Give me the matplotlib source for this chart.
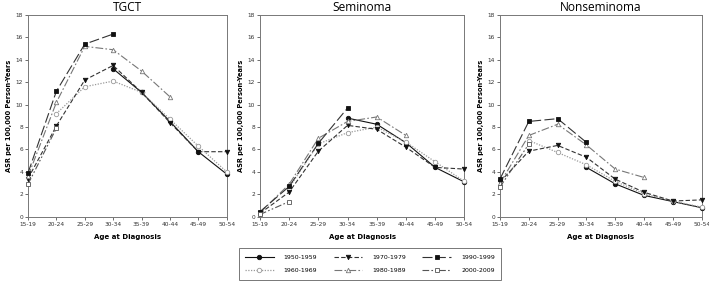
import matplotlib
matplotlib.use("Agg")
import matplotlib.pyplot as plt
import numpy as np

ages = ["15-19", "20-24", "25-29", "30-34", "35-39", "40-44", "45-49", "50-54"]
cohorts = ["1950-1959", "1960-1969", "1970-1979", "1980-1989", "1990-1999", "2000-2009"]
N = None

# TGCT
tgct_1950 = [N, N, N, 13.2, 11.1, 8.5, 5.8, 3.8]
tgct_1960 = [N, 9.2, 11.6, 12.1, 11.1, 8.7, 6.3, 4.0]
tgct_1970 = [3.4, 8.1, 12.2, 13.5, 11.1, 8.4, 5.8, 5.8]
tgct_1980 = [3.6, 10.2, 15.2, 14.9, 13.0, 10.7, N, N]
tgct_1990 = [3.9, 11.2, 15.4, 16.3, N, N, N, N]
tgct_2000 = [2.9, 7.9, N, N, N, N, N, N]

# Seminoma
sem_1950 = [N, N, N, 8.8, 8.25, 6.6, 4.4, 3.1]
sem_1960 = [N, 2.6, 6.5, 7.5, 8.0, 6.65, 4.9, 3.15]
sem_1970 = [0.3, 2.2, 5.85, 8.15, 7.8, 6.2, 4.4, 4.25]
sem_1980 = [0.35, 2.9, 7.0, 8.5, 8.9, 7.25, N, N]
sem_1990 = [0.45, 2.7, 6.55, 9.7, N, N, N, N]
sem_2000 = [0.2, 1.35, N, N, N, N, N, N]

# Nonseminoma
non_1950 = [N, N, N, 4.4, 2.93, 1.9, 1.35, 0.8]
non_1960 = [N, 6.8, 5.73, 4.63, 3.15, 2.05, 1.4, 0.85]
non_1970 = [3.1, 5.85, 6.36, 5.3, 3.35, 2.18, 1.4, 1.5]
non_1980 = [3.0, 7.25, 8.25, 6.4, 4.25, 3.5, N, N]
non_1990 = [3.37, 8.5, 8.75, 6.63, N, N, N, N]
non_2000 = [2.65, 6.48, N, N, N, N, N, N]

panels = [
    ("TGCT", [tgct_1950, tgct_1960, tgct_1970, tgct_1980, tgct_1990, tgct_2000]),
    ("Seminoma", [sem_1950, sem_1960, sem_1970, sem_1980, sem_1990, sem_2000]),
    ("Nonseminoma", [non_1950, non_1960, non_1970, non_1980, non_1990, non_2000]),
]

styles = [
    dict(color="#111111", ls="-", marker="o", mfc="#111111", lw=0.8),
    dict(color="#9a9a9a", ls=(0, (1, 1.2)), marker="o", mfc="white", lw=0.9),
    dict(color="#333333", ls=(0, (4, 2)), marker="v", mfc="#111111", lw=0.8),
    dict(color="#777777", ls=(0, (7, 2, 1.5, 2)), marker="^", mfc="white", lw=0.8),
    dict(color="#333333", ls=(0, (9, 3)), marker="s", mfc="#111111", lw=0.8),
    dict(color="#555555", ls=(0, (6, 2, 1.5, 2, 1.5, 2)), marker="s", mfc="white", lw=0.8),
]

fig = plt.figure(figsize=(7.09, 2.87), dpi=100)
W, H = 709, 287
axes_px = [(28, 226.7), (260, 464.3), (500, 701.7)]
top_px, bot_px = 15, 216.7

handles = []
for (x0, x1), (title, series) in zip(axes_px, panels):
    ax = fig.add_axes([x0 / W, 1 - bot_px / H, (x1 - x0) / W, (bot_px - top_px) / H])
    x = np.arange(len(ages))
    for lab, vals, st in zip(cohorts, series, styles):
        y = np.array([np.nan if v is None else v for v in vals], dtype=float)
        h, = ax.plot(x, y, color=st["color"], ls=st["ls"], lw=st["lw"],
                     marker=st["marker"], ms=3.2, mfc=st["mfc"],
                     mec="#111111" if st["mfc"] != "white" else st["color"],
                     mew=0.6, label=lab, clip_on=False, zorder=3)
        if len(handles) < 6:
            handles.append(h)
    ax.set_xlim(0, 7)
    ax.set_ylim(0, 18)
    ax.set_xticks(x)
    ax.set_xticklabels(ages)
    ax.set_yticks(np.arange(0, 19, 2))
    ax.tick_params(labelsize=4.2, length=2, width=0.5, pad=1.5, colors="#333333")
    for s in ax.spines.values():
        s.set_linewidth(0.7)
        s.set_color("#777777")
    fig.text((x0 + x1) / 2 / W, 1 - 11 / H, title, ha="center", va="baseline",
             fontsize=8.6, family="Open Sans")
    ax.set_xlabel("Age at Diagnosis", fontsize=5, fontweight="bold", labelpad=5)
    ax.set_ylabel("ASR per 100,000 Person-Years", fontsize=4.8, fontweight="bold", labelpad=3)

leg = fig.legend(handles=handles, labels=cohorts, ncol=3, loc="center",
                 bbox_to_anchor=(370 / W, 1 - 264 / H),
                 fontsize=4.5, frameon=True, fancybox=False,
                 handlelength=4.6, borderpad=1.0, labelspacing=1.25, columnspacing=2.6,
                 handletextpad=1.6, borderaxespad=0)
leg.get_frame().set_edgecolor("#555555")
leg.get_frame().set_linewidth(0.7)

fig.savefig("out.png", dpi=100)
